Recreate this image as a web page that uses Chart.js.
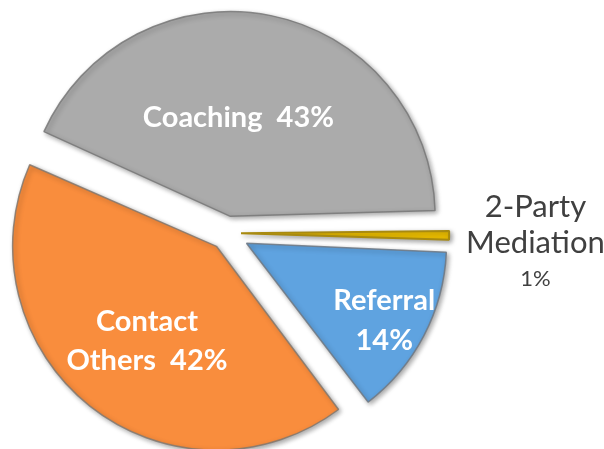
<!DOCTYPE html>
<html>
<head>
<meta charset="utf-8">
<script src="https://cdn.jsdelivr.net/npm/chart.js@4.4.0/dist/chart.umd.min.js"></script>
<style>
  html, body { margin: 0; padding: 0; background: #fff; overflow: hidden; }
</style>
</head>
<body>
<canvas id="pieChart" width="604" height="449"></canvas>
<script>
// Slices, clockwise starting from the left edge of Coaching
const categories = ['Coaching', '2-Party Mediation', 'Referral', 'Contact Others'];
const shares = [43, 1, 14, 42];
// how each category name is broken into lines, and whether the % goes on its own line
const nameLines = [['Coaching'], ['2-Party', 'Mediation'], ['Referral'], ['Contact', 'Others']];
const pctOwnLine = [false, true, true, false];

const sliceColors = ['#ABABAB', '#F2C300', '#5FA3E0', '#F98D3D'];
const sliceBorders = ['rgba(120,120,120,0.85)', '#A88A10', 'rgba(110,120,130,0.85)', 'rgba(130,120,110,0.85)'];
const sliceOffsets = [68, 56, 88, 68];

function labelLines(i) {
    const lines = nameLines[i].slice();
    const pct = shares[i] + '%';
    if (pctOwnLine[i]) lines.push(pct);
    else lines[lines.length - 1] += '  ' + pct;
    return lines;
}

// where each label sits: fraction of radius along the slice's middle, plus a nudge
const labelPlacement = [
    { dist: 0.52, dx: -12, dy: 0, lineHeight: 39, color: '#ffffff', font: 'bold 29px Lato', lastFont: null },
    { dist: 1.51, dx: 0, dy: 6, lineHeight: 36, color: '#404040', font: '31px Lato', lastFont: '22px Lato' },
    { dist: 0.82, dx: -4, dy: 2, lineHeight: 40, color: '#ffffff', font: 'bold 29px Lato', lastFont: null },
    { dist: 0.615, dx: 5, dy: 0, lineHeight: 39, color: '#ffffff', font: 'bold 29px Lato', lastFont: null }
];

const sliceShadow = {
    id: 'sliceShadow',
    beforeDatasetsDraw(chart) {
        const ctx = chart.ctx;
        ctx.save();
        ctx.shadowColor = 'rgba(0,0,0,0.35)';
        ctx.shadowBlur = 5;
        ctx.shadowOffsetX = 2;
        ctx.shadowOffsetY = 2;
    },
    afterDatasetsDraw(chart) {
        chart.ctx.restore();
    }
};

const sliceLabels = {
    id: 'sliceLabels',
    afterDatasetsDraw(chart) {
        const ctx = chart.ctx;
        const meta = chart.getDatasetMeta(0);
        ctx.save();
        ctx.textAlign = 'center';
        ctx.textBaseline = 'alphabetic';
        meta.data.forEach((arc, i) => {
            const p = labelPlacement[i];
            const mid = (arc.startAngle + arc.endAngle) / 2;
            const r = sliceOffsets[i] / 4 + arc.outerRadius * p.dist;
            const cx = arc.x + Math.cos(mid) * r + p.dx;
            const cy = arc.y + Math.sin(mid) * r + p.dy;
            const lines = labelLines(i);
            const top = cy - (lines.length - 1) * p.lineHeight / 2;
            ctx.fillStyle = p.color;
            lines.forEach((t, k) => {
                const isLast = k === lines.length - 1;
                ctx.font = (isLast && p.lastFont) ? p.lastFont : p.font;
                const size = parseFloat(ctx.font.match(/(\d+)px/)[1]);
                ctx.fillText(t, cx, top + k * p.lineHeight + size * 0.36);
            });
        });
        ctx.restore();
    }
};

const ctx = document.getElementById('pieChart').getContext('2d');
new Chart(ctx, {
    type: 'pie',
    data: {
        labels: categories,
        datasets: [{
            data: shares,
            backgroundColor: sliceColors,
            borderColor: sliceBorders,
            borderWidth: [1.5, 2, 1.5, 1.5],
            offset: sliceOffsets,
            hoverOffset: 0
        }]
    },
    options: {
        responsive: false,
        animation: false,
        rotation: -66,
        radius: 195,
        layout: { padding: { left: 0, right: 150, top: 17, bottom: 0 } },
        plugins: {
            legend: { display: false },
            tooltip: { enabled: false }
        },
        events: []
    },
    plugins: [sliceShadow, sliceLabels]
});
</script>
</body>
</html>
